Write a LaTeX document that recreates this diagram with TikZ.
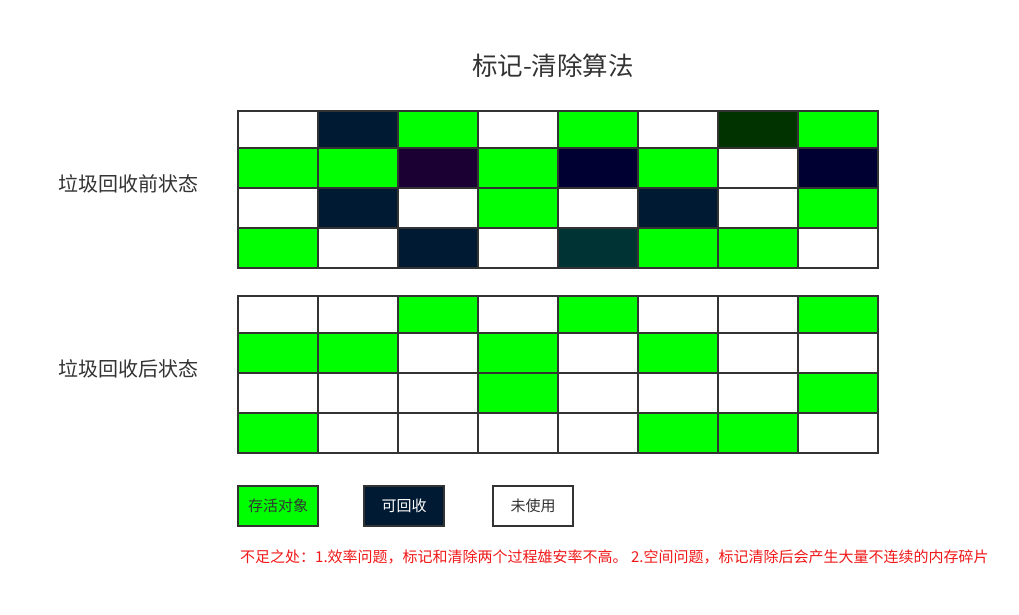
\documentclass[tikz,border=0pt]{standalone}
\usepackage{fontspec}
\setmainfont{Noto Sans CJK SC}
\begin{document}
\begin{tikzpicture}[x=1pt,y=-1pt,
  cell/.style={draw=bordergray,line width=2pt},
  lbl/.style={text=textgray,font=\fontsize{20}{20}\selectfont,inner sep=0pt},
  legendbox/.style={draw=bordergray,line width=2pt,minimum width=80pt,minimum height=40pt,inner sep=0pt,font=\fontsize{15}{15}\selectfont},
]
\definecolor{bordergray}{HTML}{333333}
\definecolor{textgray}{HTML}{333333}
\definecolor{G}{HTML}{00FF00}
\definecolor{W}{HTML}{FFFFFF}
\definecolor{N}{HTML}{001A33}
\definecolor{D}{HTML}{003300}
\definecolor{P}{HTML}{1A0033}
\definecolor{B}{HTML}{000033}
\definecolor{T}{HTML}{003333}
\definecolor{redtext}{HTML}{F01818}
\useasboundingbox (0,0) rectangle (1019,614);
\fill[white] (0,0) rectangle (1019,614);
\node[text=textgray,font=\fontsize{25.5}{25.5}\selectfont,inner sep=0pt] (title) at (553,66) {标记-清除算法};
\node[lbl] (before) at (128,184) {垃圾回收前状态};
\node[lbl] (after) at (128,369) {垃圾回收后状态};
% top grid
\foreach \row/\ya/\yb/\cols in {1/111/148/{W,N,G,W,G,W,D,G},2/148/188/{G,G,P,G,B,G,W,B},3/188/228/{W,N,W,G,W,N,W,G},4/228/268/{G,W,N,W,T,G,G,W}}{
  \foreach \c [count=\i from 0] in \cols {
    \path[cell,fill=\c] ({238+80*\i},\ya) rectangle ({318+80*\i},\yb);
  }
}
% bottom grid
\foreach \row/\ya/\yb/\cols in {1/296/333/{W,W,G,W,G,W,W,G},2/333/373/{G,G,W,G,W,G,W,W},3/373/413/{W,W,W,G,W,W,W,G},4/413/453/{G,W,W,W,W,G,G,W}}{
  \foreach \c [count=\i from 0] in \cols {
    \path[cell,fill=\c] ({238+80*\i},\ya) rectangle ({318+80*\i},\yb);
  }
}
% legend
\node[legendbox,fill=G,text=textgray] (alive) at (278,506) {存活对象};
\node[legendbox,fill=N,text=white] (recl) at (404,506) {可回收};
\node[legendbox,fill=white,text=textgray] (unused) at (533,506) {未使用};
\node[anchor=west,text=redtext,font=\fontsize{15}{15}\selectfont,inner sep=0pt] (note) at (240,557) {不足之处：1.效率问题，标记和清除两个过程雄安率不高。 2.空间问题，标记清除后会产生大量不连续的内存碎片};
\end{tikzpicture}
\end{document}
